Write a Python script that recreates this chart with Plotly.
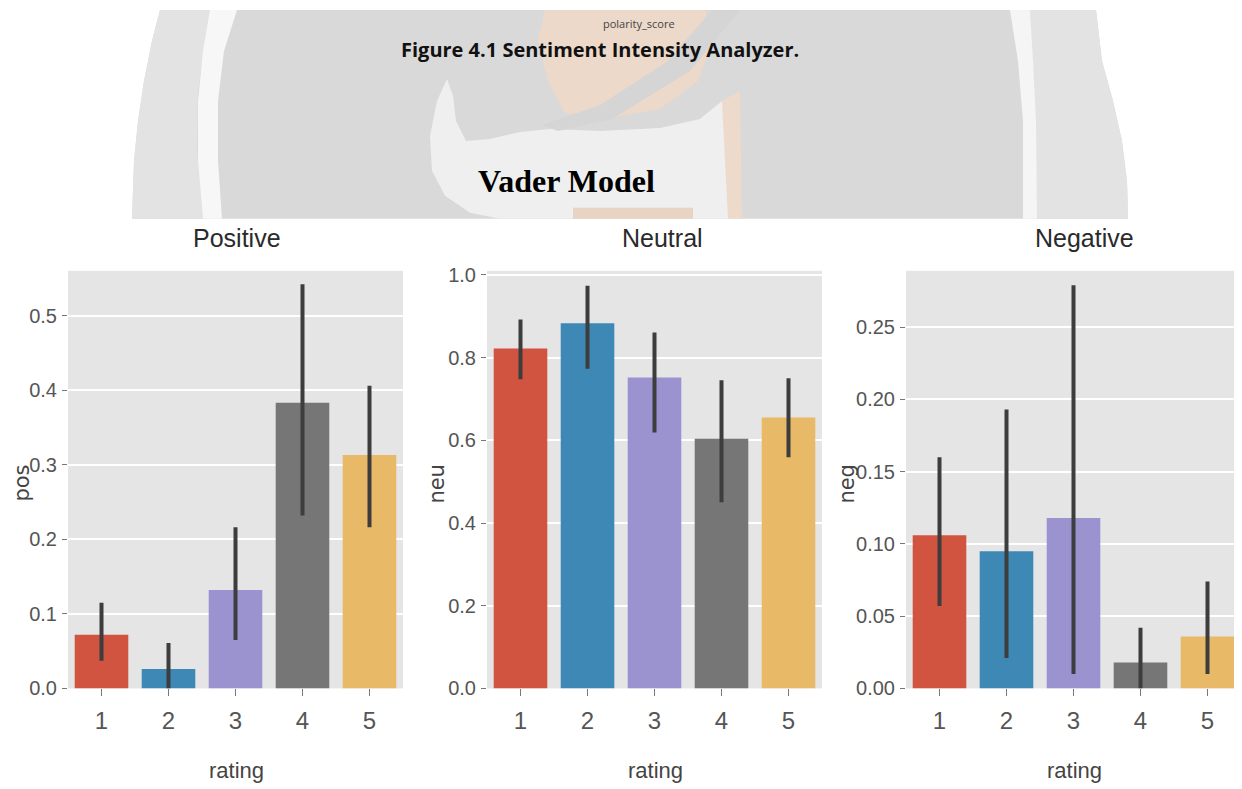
import plotly.graph_objects as go
from plotly.subplots import make_subplots

# ---------------- data ----------------
ratings = ["1", "2", "3", "4", "5"]

pos_mean = [0.072, 0.026, 0.132, 0.383, 0.313]
pos_low = [0.037, 0.000, 0.065, 0.232, 0.216]
pos_high = [0.115, 0.061, 0.216, 0.542, 0.406]

neu_mean = [0.822, 0.883, 0.752, 0.604, 0.655]
neu_low = [0.748, 0.773, 0.619, 0.450, 0.559]
neu_high = [0.892, 0.974, 0.861, 0.745, 0.750]

neg_mean = [0.106, 0.095, 0.118, 0.018, 0.036]
neg_low = [0.057, 0.021, 0.010, 0.000, 0.010]
neg_high = [0.160, 0.193, 0.279, 0.042, 0.074]

panel_titles = ["Positive", "Neutral", "Negative"]
y_titles = ["pos", "neu", "neg"]
x_title = "rating"

bar_colors = ["#D05440", "#3E88B5", "#9B92D0", "#767676", "#E8BA68"]

W, H = 1242, 789
OX = 8            # horizontal page offset compensation
OY, KY = 14, 0.978  # vertical page offset / scale compensation


def px(x):
    return (x - OX) / W


def py(y):
    return 1 - (y - OY) / (KY * H)


fig = make_subplots(rows=1, cols=3)

panels = [
    (pos_mean, pos_low, pos_high),
    (neu_mean, neu_low, neu_high),
    (neg_mean, neg_low, neg_high),
]
for i, (m, lo, hi) in enumerate(panels, start=1):
    fig.add_trace(
        go.Bar(
            x=ratings,
            y=m,
            marker=dict(color=bar_colors, line=dict(width=0)),
            error_y=dict(
                type="data",
                symmetric=False,
                array=[h - v for h, v in zip(hi, m)],
                arrayminus=[v - l for v, l in zip(m, lo)],
                color="#3d3d3d",
                thickness=4,
                width=0,
            ),
            showlegend=False,
        ),
        row=1,
        col=i,
    )

x_doms = [(68, 403), (487, 822), (906, 1241)]
y_dom = [py(688), py(270)]
y_ranges = [[0, 0.560], [0, 1.01], [0, 0.289]]
y_ticks = [
    ([0, 0.1, 0.2, 0.3, 0.4, 0.5], ".1f"),
    ([0, 0.2, 0.4, 0.6, 0.8, 1.0], ".1f"),
    ([0, 0.05, 0.10, 0.15, 0.20, 0.25], ".2f"),
]

NARROW = "Liberation Sans, Arial, sans-serif"

for i in range(3):
    sfx = "" if i == 0 else str(i + 1)
    fig.layout["xaxis" + sfx].update(
        domain=[px(x_doms[i][0]), px(x_doms[i][1])],
        showgrid=False,
        zeroline=False,
        ticks="outside",
        ticklen=7,
        tickcolor="#777777",
        tickwidth=1,
        tickfont=dict(size=24, family=NARROW, color="#555555"),
        ticklabelstandoff=4,
        showline=False,
    )
    fig.layout["yaxis" + sfx].update(
        domain=y_dom,
        range=y_ranges[i],
        tickvals=y_ticks[i][0],
        tickformat=y_ticks[i][1],
        showgrid=True,
        gridcolor="white",
        gridwidth=2,
        zeroline=False,
        ticks="outside",
        ticklen=5,
        tickcolor="#777777",
        tickwidth=1,
        tickfont=dict(size=20, family=NARROW, color="#555555"),
        ticklabelstandoff=1,
        showline=False,
    )

annotations = []
title_centers = [237, 662, 1084]
for i in range(3):
    annotations.append(dict(
        text=panel_titles[i], x=px(title_centers[i]), y=py(237), xref="paper", yref="paper",
        xanchor="center", yanchor="middle", showarrow=False,
        font=dict(size=25, color="#2a2a2a", family=NARROW),
    ))
ylab_x = [22, 437, 847]
for i in range(3):
    annotations.append(dict(
        text=y_titles[i], x=px(ylab_x[i]), y=py(483), xref="paper", yref="paper",
        xanchor="center", yanchor="middle", showarrow=False, textangle=-90,
        font=dict(size=21, color="#444444", family="DejaVu Sans, sans-serif"),
    ))
xlab_x = [236, 655, 1074]
for i in range(3):
    annotations.append(dict(
        text=x_title, x=px(xlab_x[i]), y=py(770), xref="paper", yref="paper",
        xanchor="center", yanchor="middle", showarrow=False,
        font=dict(size=22, color="#444444", family=NARROW),
    ))

# document texts
annotations.append(dict(
    text="polarity_score", x=px(639), y=1.0, xref="paper", yref="paper",
    xanchor="center", yanchor="top", showarrow=False, borderpad=0,
    font=dict(size=11, color="#444444", family="Open Sans, sans-serif"),
))
annotations.append(dict(
    text="<b>Figure 4.1 Sentiment Intensity Analyzer.</b>", x=px(600), y=py(49),
    xref="paper", yref="paper", xanchor="center", yanchor="middle", showarrow=False,
    borderpad=0,
    font=dict(size=20, color="#111111", family="Open Sans, sans-serif"),
))
annotations.append(dict(
    text="<b>Vader Model</b>", x=px(566), y=py(180), xref="paper", yref="paper",
    xanchor="center", yanchor="middle", showarrow=False,
    font=dict(size=32, color="#000000", family="Liberation Serif, serif"),
))


# ---- faded watermark in the document background ----
def path(pts):
    return "M " + " L ".join(f"{px(x):.5f},{py(y):.5f}" for x, y in pts) + " Z"


def poly(pts, color):
    return dict(type="path", xref="paper", yref="paper", layer="below",
                line=dict(width=0), fillcolor=color, path=path(pts))


shapes = [
    # base grey
    poly([(160, 9), (152, 40), (144, 80), (138, 120), (134, 160), (132, 218),
          (1128, 218), (1127, 180), (1122, 140), (1113, 100), (1102, 60), (1096, 9)], "#d9d9d9"),
    # lighter left strip
    poly([(160, 9), (152, 40), (144, 80), (138, 120), (134, 160), (132, 218),
          (203, 218), (197, 150), (198, 90), (205, 40), (212, 9)], "#e3e3e3"),
    # lighter right strip
    poly([(1030, 9), (1096, 9), (1102, 60), (1113, 100), (1122, 140), (1127, 180),
          (1128, 218), (1036, 218), (1036, 150), (1034, 90)], "#e3e3e3"),
    # left white band
    poly([(210, 9), (203, 50), (198, 100), (198, 160), (203, 218), (222, 218),
          (218, 160), (218, 100), (224, 50), (237, 9)], "#f7f7f7"),
    # right white band
    poly([(1010, 9), (1018, 60), (1023, 120), (1023, 218), (1037, 218), (1036, 120),
          (1033, 60), (1030, 9)], "#f5f5f5"),
    # light lower-middle area with crescent
    poly([(447, 78), (437, 100), (430, 135), (432, 170), (445, 195), (470, 212), (500, 218),
          (735, 218), (735, 130), (722, 100), (700, 118), (660, 127), (600, 130), (550, 128),
          (520, 131), (490, 138), (466, 140), (456, 120), (453, 95)], "#efefef"),
    # peach upper-middle
    poly([(545, 9), (705, 9), (712, 40), (698, 80), (660, 108), (600, 118), (565, 112),
          (548, 80), (538, 40)], "#edd9ca"),
    # darker diagonal band
    poly([(712, 9), (740, 9), (690, 70), (612, 118), (558, 130), (542, 124), (600, 104),
          (668, 60)], "#d5d5d5"),
    # peach strip right
    poly([(722, 100), (740, 90), (742, 218), (728, 218)], "#eddacb"),
    # peach box under title
    poly([(573, 207), (693, 207), (693, 218), (573, 218)], "#e9d3c3"),
]

fig.update_layout(
    width=W,
    height=H,
    margin=dict(l=0, r=0, t=0, b=0),
    paper_bgcolor="white",
    plot_bgcolor="#E5E5E5",
    bargap=0.2,
    annotations=annotations,
    shapes=shapes,
    showlegend=False,
)

fig.write_html("out.html")
